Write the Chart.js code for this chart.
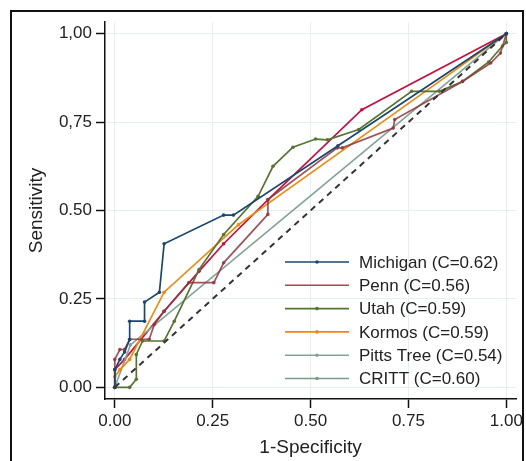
<!DOCTYPE html>
<html>
<head>
<meta charset="utf-8">
<script src="https://cdn.jsdelivr.net/npm/chart.js@4.4.1/dist/chart.umd.min.js"></script>
<style>
  html, body { margin: 0; padding: 0; background: #fff; }
  canvas { display: block; }
</style>
</head>
<body>
<canvas id="roc" width="526" height="461"></canvas>
<script>
// ROC curves
const michiganX = [0, 0, 0.013, 0.025, 0.038, 0.038, 0.076, 0.076, 0.114, 0.126, 0.278, 0.303, 0.57, 1];
const michiganY = [0, 0.05, 0.079, 0.10, 0.135, 0.187, 0.187, 0.241, 0.269, 0.406, 0.487, 0.487, 0.683, 1];

const pennX = [0, 0, 0.013, 0.025, 0.038, 0.088, 0.101, 0.126, 0.189, 0.253, 0.278, 0.391, 0.391, 0.568, 0.581, 0.711, 0.715, 0.888, 0.96, 0.985, 1];
const pennY = [0, 0.079, 0.107, 0.107, 0.136, 0.136, 0.178, 0.215, 0.296, 0.296, 0.352, 0.489, 0.531, 0.677, 0.677, 0.733, 0.757, 0.865, 0.917, 0.945, 1];

const utahX = [0, 0.038, 0.055, 0.055, 0.071, 0.126, 0.152, 0.215, 0.278, 0.366, 0.404, 0.455, 0.513, 0.543, 0.623, 0.758, 0.829, 0.888, 0.955, 0.99, 1, 1];
const utahY = [0, 0, 0.023, 0.093, 0.131, 0.131, 0.187, 0.333, 0.432, 0.54, 0.625, 0.679, 0.702, 0.70, 0.729, 0.837, 0.837, 0.865, 0.92, 0.965, 0.975, 1];

const kormosX = [0, 0, 0.013, 0.038, 0.126, 0.316, 1];
const kormosY = [0, 0.03, 0.05, 0.079, 0.269, 0.46, 1];

const pittsX = [0, 0.04, 1];
const pittsY = [0, 0.12, 1];

const crittX = [0, 0, 0.025, 0.126, 0.215, 0.278, 0.391, 0.631, 1];
const crittY = [0, 0.05, 0.079, 0.215, 0.328, 0.406, 0.53, 0.785, 1];

const seriesNames = ['Michigan (C=0.62)', 'Penn (C=0.56)', 'Utah (C=0.59)', 'Kormos (C=0.59)', 'Pitts Tree (C=0.54)', 'CRITT (C=0.60)'];
const seriesColors = ['#1a476f', 'rgba(144,53,59,0.85)', '#55752f', '#ef8a0c', '#84a398', '#c8103e'];
// the legend swatches as they appear in the picture
const legendColors = ['#1a476f', '#a04a54', '#55752f', '#ef8a0c', '#84a398', '#7a9a8a'];
const legendDots = [true, false, true, true, true, true];

const xTicks = [0, 0.25, 0.5, 0.75, 1];
const xTickLabels = ['0.00', '0.25', '0.50', '0.75', '1.00'];
const yTicks = [0, 0.25, 0.5, 0.75, 1];
const yTickLabels = ['0.00', '0.25', '0.50', '0,75', '1,00'];

const zip = (xs, ys) => xs.map((x, i) => ({x: x, y: ys[i]}));
const curves = [
  zip(michiganX, michiganY),
  zip(pennX, pennY),
  zip(utahX, utahY),
  zip(kormosX, kormosY),
  zip(pittsX, pittsY),
  zip(crittX, crittY)
];

const datasets = [{
  label: 'reference',
  data: [{x: 0, y: 0}, {x: 1, y: 1}],
  borderColor: '#333',
  borderWidth: 2,
  borderDash: [6, 5],
  pointRadius: 0,
  showLine: true
}];
curves.forEach((pts, i) => {
  datasets.push({
    label: seriesNames[i],
    data: pts,
    borderColor: seriesColors[i],
    backgroundColor: seriesColors[i],
    borderWidth: 1.7,
    pointRadius: 1.8,
    pointBorderWidth: 0,
    showLine: true
  });
});

// page frame
const frame = {
  id: 'frame',
  beforeDraw(chart) {
    const {ctx} = chart;
    ctx.save();
    ctx.fillStyle = '#fff';
    ctx.fillRect(0, 0, chart.width, chart.height);
    ctx.strokeStyle = '#111';
    ctx.lineWidth = 2;
    ctx.beginPath();
    ctx.moveTo(11, 470);
    ctx.lineTo(11, 11);
    ctx.lineTo(523, 11);
    ctx.lineTo(523, 470);
    ctx.stroke();
    ctx.restore();
  }
};

// legend inside the plot, no box
const insideLegend = {
  id: 'insideLegend',
  afterDatasetsDraw(chart) {
    const {ctx} = chart;
    ctx.save();
    ctx.font = '17px "Liberation Sans", Arial, sans-serif';
    ctx.textBaseline = 'middle';
    ctx.fillStyle = '#222';
    seriesNames.forEach((name, i) => {
      const y = 262 + i * 23.3;
      ctx.strokeStyle = legendColors[i];
      ctx.lineWidth = 1.6;
      ctx.beginPath();
      ctx.moveTo(285, y);
      ctx.lineTo(349, y);
      ctx.stroke();
      if (legendDots[i]) {
        ctx.fillStyle = legendColors[i];
        ctx.beginPath();
        ctx.arc(317, y, 1.8, 0, Math.PI * 2);
        ctx.fill();
      }
      ctx.fillStyle = '#222';
      ctx.fillText(name, 359, y + 1);
    });
    ctx.restore();
  }
};

Chart.defaults.font.family = '"Liberation Sans", Arial, sans-serif';
Chart.defaults.color = '#222';
Chart.defaults.plugins.legend.display = false;
Chart.defaults.plugins.tooltip.enabled = false;

const config = {
  type: 'scatter',
  data: {datasets},
  options: {
    responsive: false,
    animation: false,
    layout: {padding: {top: 22, right: 5, left: 0, bottom: 0}},
    scales: {
      x: {
        type: 'linear',
        min: -0.025,
        max: 1.025,
        afterBuildTicks: (scale) => { scale.ticks = xTicks.map(v => ({value: v})); },
        afterFit: (scale) => { scale.height = 62; },
        ticks: {
          font: {size: 17},
          padding: 3,
          maxRotation: 0,
          callback: (v, i) => xTickLabels[i]
        },
        grid: {color: '#e6eef1', lineWidth: 1, tickLength: 9, tickColor: '#111', tickWidth: 1.5},
        border: {color: '#111', width: 1.5},
        title: {display: true, text: '1-Specificity', font: {size: 19}, padding: {top: 0, bottom: 2}}
      },
      y: {
        type: 'linear',
        min: -0.033,
        max: 1.033,
        afterBuildTicks: (scale) => { scale.ticks = yTicks.map(v => ({value: v})); },
        afterFit: (scale) => { scale.width = 105; },
        ticks: {
          font: {size: 17},
          padding: 4,
          callback: (v, i) => yTickLabels[i]
        },
        grid: {color: '#e6eef1', lineWidth: 1, tickLength: 9, tickColor: '#111', tickWidth: 1.5},
        border: {color: '#111', width: 1.5},
        title: {display: true, text: 'Sensitivity', font: {size: 19}, padding: {top: 25, bottom: 0}}
      }
    }
  },
  plugins: [frame, insideLegend]
};

const rocChart = new Chart(document.getElementById('roc'), config);
</script>
</body>
</html>
